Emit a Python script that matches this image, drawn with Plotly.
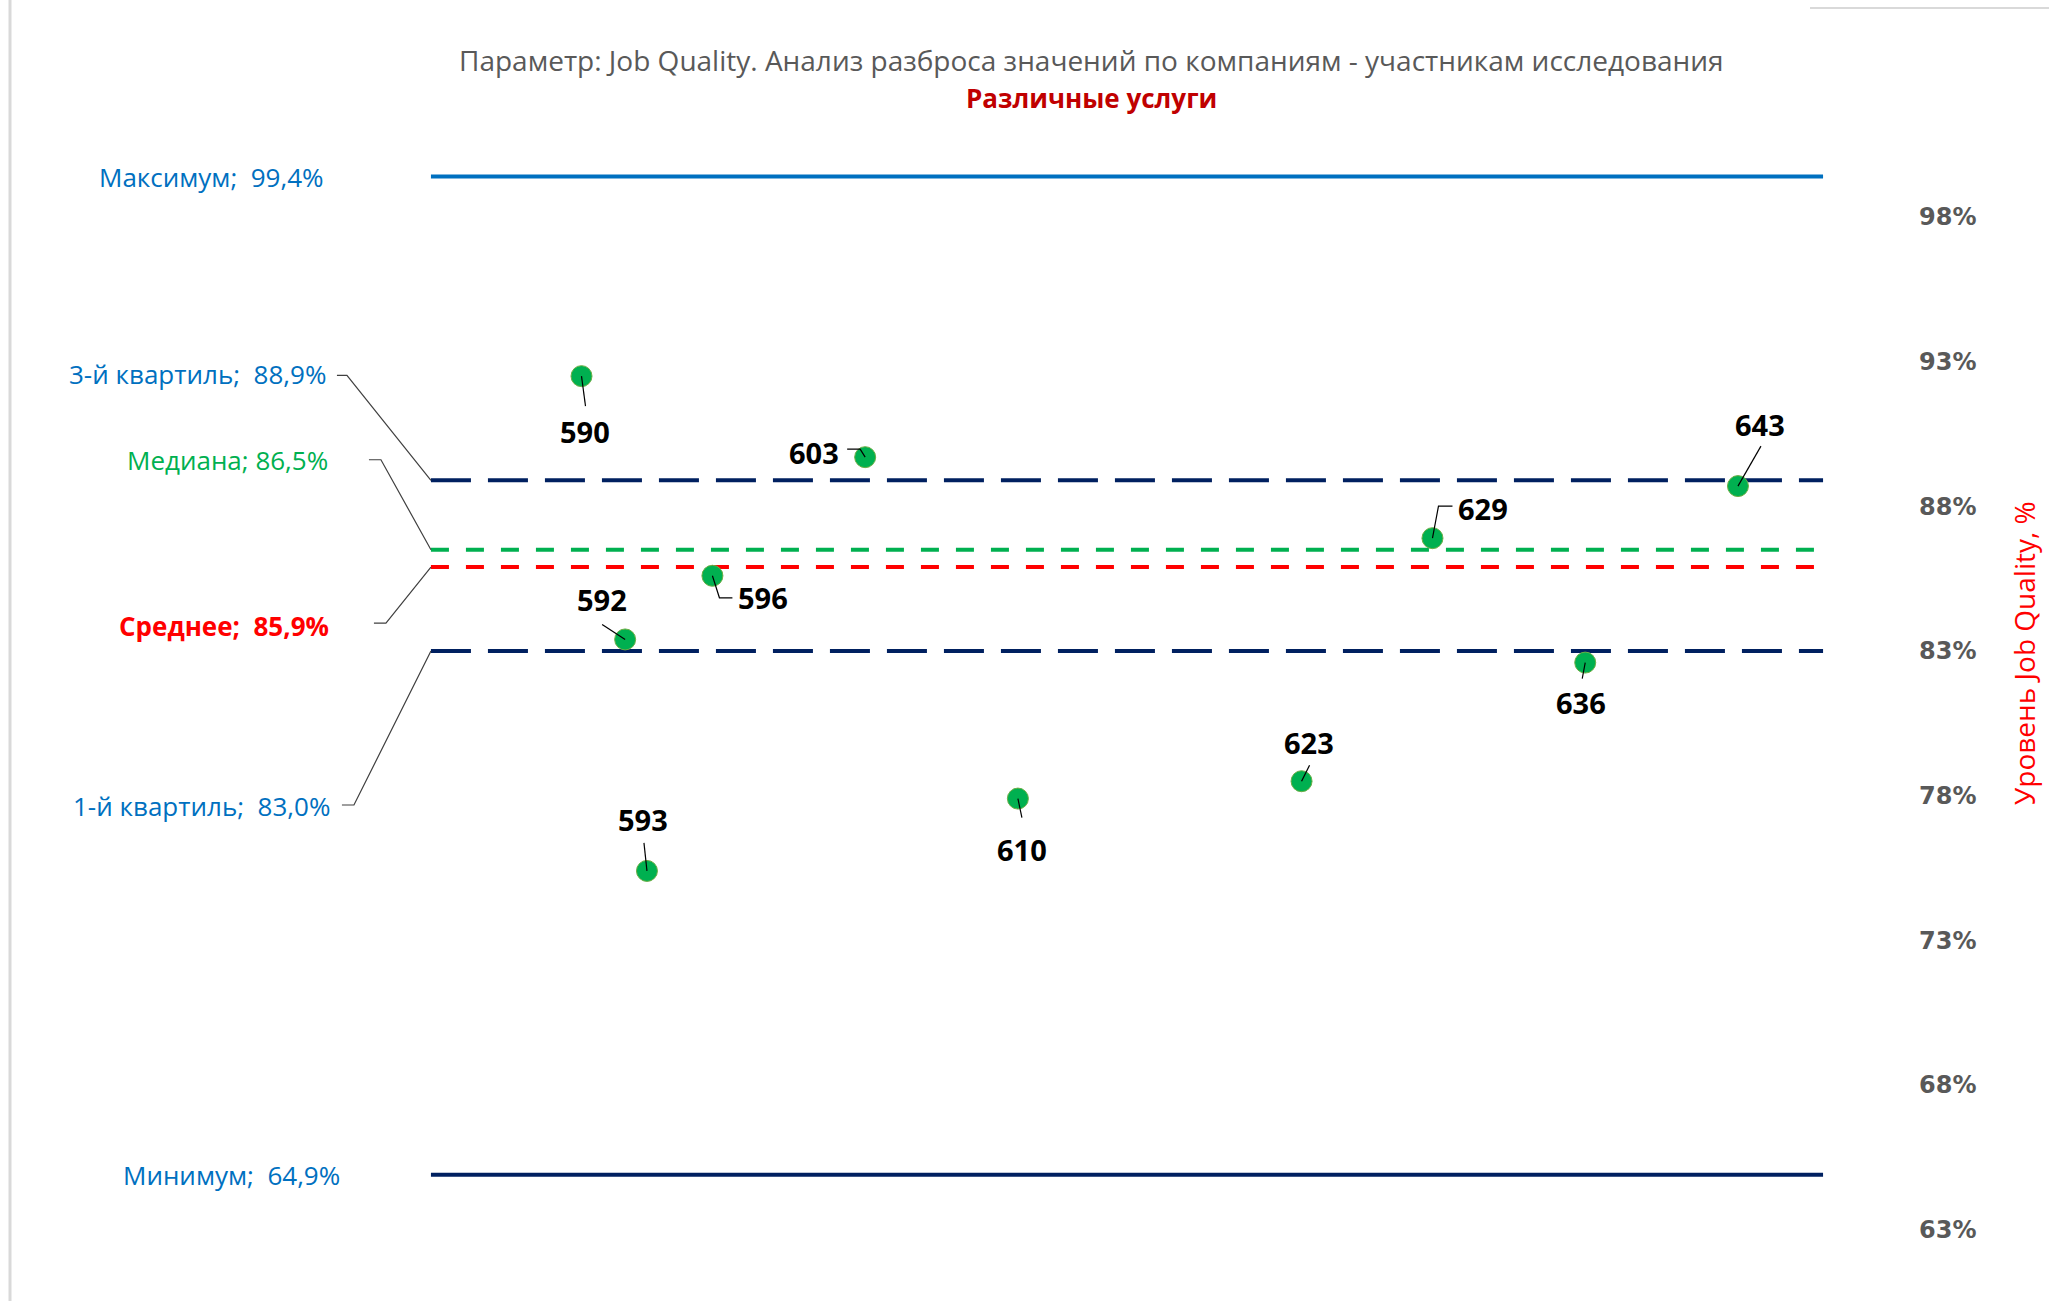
import plotly.graph_objects as go

# ---- data -------------------------------------------------------------
companies = [590, 592, 593, 596, 603, 610, 623, 629, 636, 643]
scores = [92.5, 83.4, 75.4, 85.6, 89.7, 77.9, 78.5, 86.9, 82.6, 88.7]

stat_names = ["Максимум", "3-й квартиль", "Медиана", "Среднее", "1-й квартиль", "Минимум"]
stat_values = [99.4, 88.9, 86.5, 85.9, 83.0, 64.9]

tick_values = [63, 68, 73, 78, 83, 88, 93, 98]
tick_labels = ["63%", "68%", "73%", "78%", "83%", "88%", "93%", "98%"]

title_text = "Параметр: Job Quality. Анализ разброса значений по компаниям - участникам исследования"
subtitle_text = "Различные услуги"
axis_title = "Уровень Job Quality, %"

# ---- styling ----------------------------------------------------------
W, H = 2049, 1301
L, R, T, B = 20, 1912, 100, 1280
X_RANGE = [564.267, 650.976]
Y_RANGE = [61.261, 102.044]
LINE_X = [583.1, 646.9]

FONT = "Open Sans"
BLUE = "#0070C0"
NAVY = "#002060"
GREEN = "#00B050"
RED = "#FF0000"

stat_style = {
    "Максимум":     dict(color=BLUE, width=4, dash="solid", txt=BLUE, bold=False, sep="\u00a0 "),
    "3-й квартиль": dict(color=NAVY, width=4, dash="40px,17px", txt=BLUE, bold=False, sep="\u00a0 "),
    "Медиана":      dict(color=GREEN, width=4, dash="18px,17px", txt=GREEN, bold=False, sep=" "),
    "Среднее":      dict(color=RED, width=4, dash="18px,17px", txt=RED, bold=True, sep="\u00a0 "),
    "1-й квартиль": dict(color=NAVY, width=4, dash="40px,17px", txt=BLUE, bold=False, sep="\u00a0 "),
    "Минимум":      dict(color=NAVY, width=4, dash="solid", txt=BLUE, bold=False, sep="\u00a0 "),
}

# label placement relative to the left end of each line (screen px: dx right, dy down)
stat_label_pos = {
    "Максимум":     dict(dx=-105, dy=0, leader=None),
    "3-й квартиль": dict(dx=-103, dy=-106, leader=[(-94, -105), (-84, -105), (0, 0)]),
    "Медиана":      dict(dx=-101, dy=-90, leader=[(-62, -90), (-50, -90), (0, 0)]),
    "Среднее":      dict(dx=-100, dy=59, leader=[(-57, 56), (-45, 56), (0, 0)]),
    "1-й квартиль": dict(dx=-99, dy=155, leader=[(-89, 154), (-77, 154), (0, 0)]),
    "Минимум":      dict(dx=-89, dy=0, leader=None),
}

# point label placement relative to each marker (screen px: dx right, dy down)
point_label_pos = {
    590: dict(dx=3, dy=55, leader=[(0, 0), (4, 30)]),
    592: dict(dx=-23, dy=-40, leader=[(0, 0), (-23, -15)]),
    593: dict(dx=-4, dy=-51, leader=[(0, 0), (-3, -28)]),
    596: dict(dx=51, dy=22, leader=[(0, 0), (7, 22), (20, 22)]),
    603: dict(dx=-51, dy=-5, leader=[(0, 0), (-5, -8), (-18, -8)]),
    610: dict(dx=4, dy=51, leader=[(0, 0), (4, 19)]),
    623: dict(dx=7, dy=-39, leader=[(0, 0), (8, -16)]),
    629: dict(dx=51, dy=-30, leader=[(0, 0), (6, -32), (20, -32)]),
    636: dict(dx=-4, dy=40, leader=[(0, 0), (-3, 16)]),
    643: dict(dx=22, dy=-62, leader=[(0, 0), (23, -40)]),
}


def pixel_path(points):
    """SVG path in pixel offsets (plotly pixel mode: y grows upward)."""
    return " ".join(("M" if i == 0 else "L") + f"{dx},{-dy}" for i, (dx, dy) in enumerate(points))


def pct(v):
    return f"{v:.1f}%".replace(".", ",")


def px_to_paper_x(px):
    return (px - L) / (R - L)


def px_to_paper_y(py):
    return (B - py) / (B - T)


fig = go.Figure()
shapes = []
annotations = []

# statistic lines
for name, val in zip(stat_names, stat_values):
    st = stat_style[name]
    fig.add_trace(go.Scatter(
        x=LINE_X, y=[val, val], mode="lines",
        line=dict(color=st["color"], width=st["width"], dash=st["dash"]),
        hoverinfo="skip", showlegend=False,
    ))
    pos = stat_label_pos[name]
    text = f"{name};{st['sep']}{pct(val)}"
    if st["bold"]:
        text = f"<b>{text}</b>"
    annotations.append(dict(
        x=LINE_X[0], y=val, xref="x", yref="y", text=text, showarrow=False,
        xanchor="right", yanchor="middle", xshift=pos["dx"], yshift=-pos["dy"],
        font=dict(family=FONT, size=26, color=st["txt"]),
    ))
    if pos["leader"]:
        shapes.append(dict(
            type="path", xref="x", yref="y", xsizemode="pixel", ysizemode="pixel",
            xanchor=LINE_X[0], yanchor=val, path=pixel_path(pos["leader"]),
            line=dict(color="#404040", width=1.2),
        ))

# company points
fig.add_trace(go.Scatter(
    x=companies, y=scores, mode="markers",
    marker=dict(color=GREEN, size=21, line=dict(color="#6DAE45", width=1)),
    hoverinfo="x+y", showlegend=False,
))

for comp, val in zip(companies, scores):
    pos = point_label_pos[comp]
    shapes.append(dict(
        type="path", xref="x", yref="y", xsizemode="pixel", ysizemode="pixel",
        xanchor=comp, yanchor=val, path=pixel_path(pos["leader"]),
        line=dict(color="#000000", width=1.2), layer="above",
    ))
    annotations.append(dict(
        x=comp, y=val, xref="x", yref="y", text=f"<b>{comp}</b>", showarrow=False,
        xanchor="center", yanchor="middle", xshift=pos["dx"], yshift=-pos["dy"],
        font=dict(family=FONT, size=29, color="#000000"),
    ))

# titles
annotations.append(dict(
    x=px_to_paper_x(1091), y=px_to_paper_y(60), xref="paper", yref="paper", text=title_text,
    showarrow=False, xanchor="center", yanchor="middle",
    font=dict(family=FONT, size=28, color="#595959"),
))
annotations.append(dict(
    x=px_to_paper_x(1091), y=px_to_paper_y(98), xref="paper", yref="paper",
    text=f"<b>{subtitle_text}</b>",
    showarrow=False, xanchor="center", yanchor="middle",
    font=dict(family=FONT, size=26, color="#C00000"),
))
annotations.append(dict(
    x=px_to_paper_x(2024), y=px_to_paper_y(653), xref="paper", yref="paper",
    text=axis_title, textangle=-90, showarrow=False, xanchor="center", yanchor="middle",
    font=dict(family=FONT, size=28, color=RED),
))

# chart-area border fragments
shapes.append(dict(type="line", xref="paper", yref="paper",
                   x0=px_to_paper_x(10), x1=px_to_paper_x(10),
                   y0=px_to_paper_y(H), y1=px_to_paper_y(0),
                   line=dict(color="#D9D9D9", width=3)))
shapes.append(dict(type="line", xref="paper", yref="paper",
                   x0=px_to_paper_x(1810), x1=px_to_paper_x(W),
                   y0=px_to_paper_y(8), y1=px_to_paper_y(8),
                   line=dict(color="#D9D9D9", width=2)))

fig.update_layout(
    width=W, height=H,
    margin=dict(l=L, r=W - R, t=T, b=H - B),
    paper_bgcolor="white", plot_bgcolor="white",
    xaxis=dict(visible=False, range=X_RANGE, fixedrange=True),
    yaxis=dict(
        side="right", range=Y_RANGE, showgrid=False, zeroline=False, showline=False,
        tickvals=tick_values, ticktext=tick_labels, ticks="", ticklabelstandoff=6,
        tickfont=dict(family="DejaVu Sans", size=24, color="#595959", weight="bold"),
        fixedrange=True,
    ),
    shapes=shapes,
    annotations=annotations,
    showlegend=False,
)

fig.write_html("out.html")
